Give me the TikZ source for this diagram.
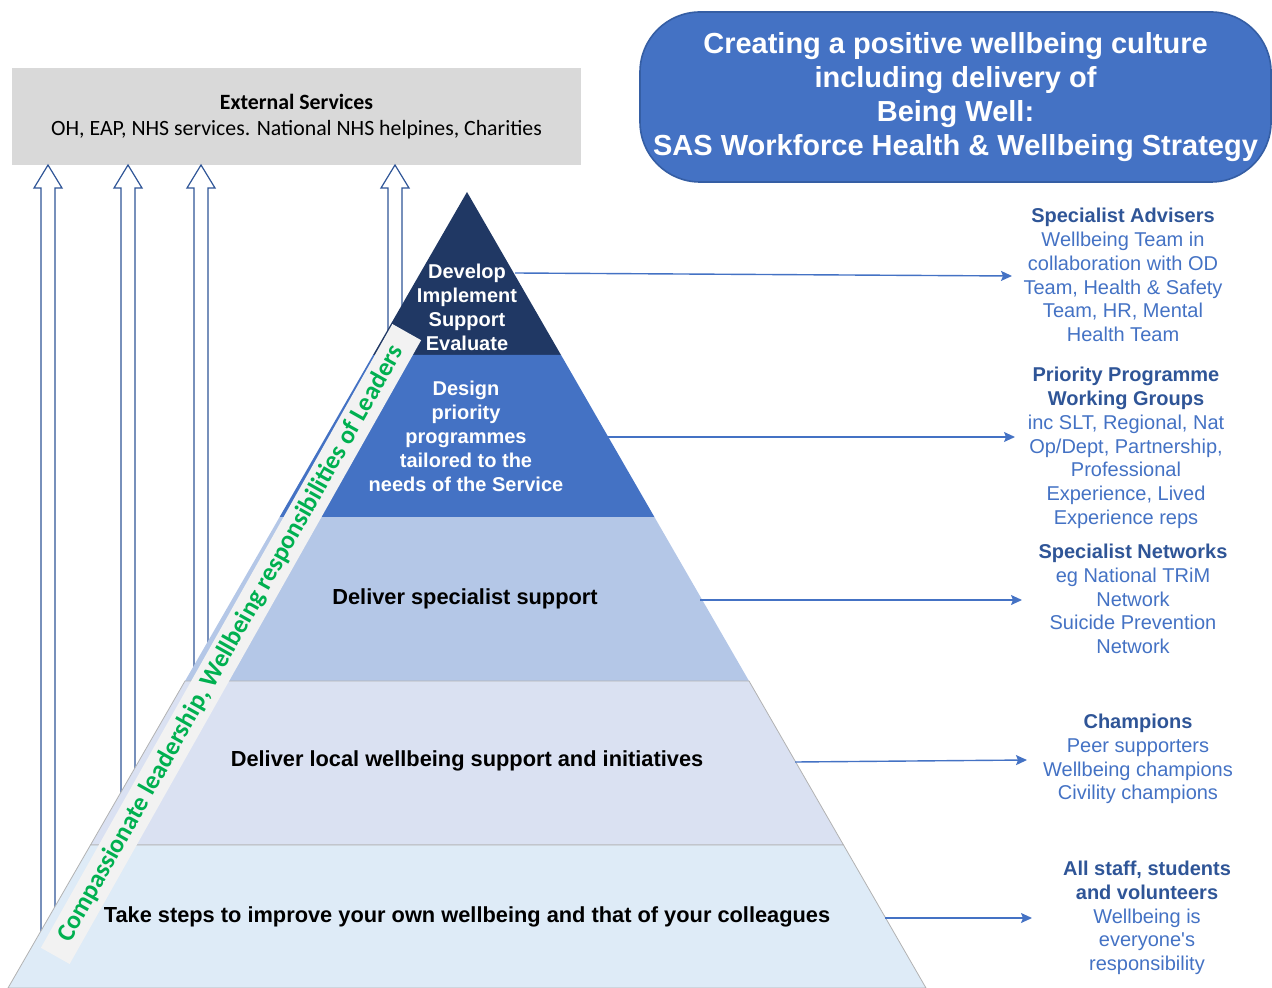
\documentclass[tikz,border=0pt]{standalone}
\usepackage{fontspec}
\setmainfont{Liberation Sans}
\newfontfamily\calibri{Carlito}
\usetikzlibrary{arrows.meta}

\definecolor{navy}{HTML}{203864}
\definecolor{midblue}{HTML}{4472C4}
\definecolor{paleblue}{HTML}{B4C7E7}
\definecolor{lilac}{HTML}{DAE1F2}
\definecolor{skyblue}{HTML}{DEEBF7}
\definecolor{darkblue}{HTML}{2F5597}
\definecolor{leafgreen}{HTML}{00B050}
\definecolor{boxgrey}{HTML}{D9D9D9}
\definecolor{bannergrey}{HTML}{F2F2F2}

\newcommand{\head}[1]{{\color{darkblue}\bfseries #1}}

\begin{document}
\begin{tikzpicture}[x=0.5pt,y=-0.5pt]
    \tikzstyle{tiertext}=[font=\bfseries\fontsize{10}{12}\selectfont,align=center,inner sep=0pt]
    \tikzstyle{widetier}=[font=\bfseries\fontsize{10.9}{13}\selectfont,align=center,inner sep=0pt]
    \tikzstyle{sidetext}=[font=\fontsize{10}{11.9}\selectfont,text=midblue,align=center,inner sep=0pt]
    \tikzstyle{linkarrow}=[midblue,line width=0.7pt,-{Stealth[length=5.5pt,width=5pt,inset=1pt]}]
    \tikzstyle{uparrow}=[draw=darkblue,line width=0.6pt,fill=white,line join=miter]
    \tikzstyle{titlebox}=[fill=midblue,draw=darkblue!70!midblue,line width=0.8pt,rounded corners=30pt,minimum width=315.5pt,minimum height=85pt,text=white,font=\bfseries\fontsize{14.5}{17}\selectfont,align=center,inner sep=0pt]
    \tikzstyle{extbox}=[fill=boxgrey,minimum width=284.5pt,minimum height=48.5pt,font=\calibri\fontsize{10.9}{13}\selectfont,align=center]
    \tikzstyle{banner}=[fill=bannergrey,rotate=60.6,minimum width=358pt,minimum height=16.5pt,text=leafgreen,font=\calibri\bfseries\fontsize{12.8}{14}\selectfont,inner sep=0pt]

    \useasboundingbox (0,0) rectangle (1272,988);

    % boxes at the top
    \node[extbox] (ext) at (296.5,116.5) {{\bfseries External Services}\\OH, EAP, NHS services. National NHS helpines, Charities};
    \node[titlebox] (title) at (955.5,97) {Creating a positive wellbeing culture\\including delivery of\\Being Well:\\SAS Workforce Health \& Wellbeing Strategy};

    % hollow arrows up to the external services
    \foreach \ax in {48,128,201,395}
        \draw[uparrow] (\ax-7,960) -- (\ax-7,188) -- (\ax-14,188) -- (\ax,165)
            -- (\ax+14,188) -- (\ax+7,188) -- (\ax+7,960);

    % pyramid, top to bottom
    \fill[navy] (467,192) -- (561,355) -- (373,355) -- cycle;
    \fill[midblue] (373,355) -- (561,355) -- (654.4,517) -- (279.6,517) -- cycle;
    \fill[paleblue] (279.6,517) -- (654.4,517) -- (749,681) -- (185,681) -- cycle;
    \filldraw[fill=lilac,draw=gray!60] (185,681) -- (749,681) -- (843.5,845) -- (90.5,845) -- cycle;
    \filldraw[fill=skyblue,draw=gray!60] (90.5,845) -- (843.5,845) -- (926,988) -- (8,988) -- cycle;

    \node[tiertext,text=white] (develop) at (467,307) {Develop\\Implement\\Support\\Evaluate};
    \node[tiertext,text=white] (design) at (466,436) {Design\\priority\\programmes\\tailored to the\\needs of the Service};
    \node[widetier] (specialist) at (465,599) {Deliver specialist support};
    \node[widetier] (local) at (467,761) {Deliver local wellbeing support and initiatives};
    \node[widetier] (steps) at (467,917) {Take steps to improve your own wellbeing and that of your colleagues};

    % leaders strip along the left side
    \node[banner] (leaders) at (231,644) {Compassionate leadership, Wellbeing responsibilities of Leaders};

    % who does what
    \node[sidetext] (advisers) at (1123,275) {\head{Specialist Advisers}\\Wellbeing Team in\\collaboration with OD\\Team, Health \& Safety\\Team, HR, Mental\\Health Team};
    \node[sidetext] (groups) at (1126,448) {\head{Priority Programme}\\\head{Working Groups}\\inc SLT, Regional, Nat\\Op/Dept, Partnership,\\Professional\\Experience, Lived\\Experience reps};
    \node[sidetext] (networks) at (1133,599) {\head{Specialist Networks}\\eg National TRiM\\Network\\Suicide Prevention\\Network};
    \node[sidetext] (champions) at (1138,759) {\head{Champions}\\Peer supporters\\Wellbeing champions\\Civility champions};
    \node[sidetext] (allstaff) at (1147,918) {\head{All staff, students}\\\head{and volunteers}\\Wellbeing is\\everyone\textquotesingle s\\responsibility};

    \coordinate (from1) at (515,273);  \coordinate (to1) at (1012,276);
    \coordinate (from2) at (605,437);  \coordinate (to2) at (1015,437);
    \coordinate (from3) at (700,600);  \coordinate (to3) at (1022,600);
    \coordinate (from4) at (795,762);  \coordinate (to4) at (1027,760);
    \coordinate (from5) at (885,918);  \coordinate (to5) at (1032,918);
    \foreach \i in {1,...,5}
        \draw[linkarrow] (from\i) -- (to\i);
\end{tikzpicture}
\end{document}
